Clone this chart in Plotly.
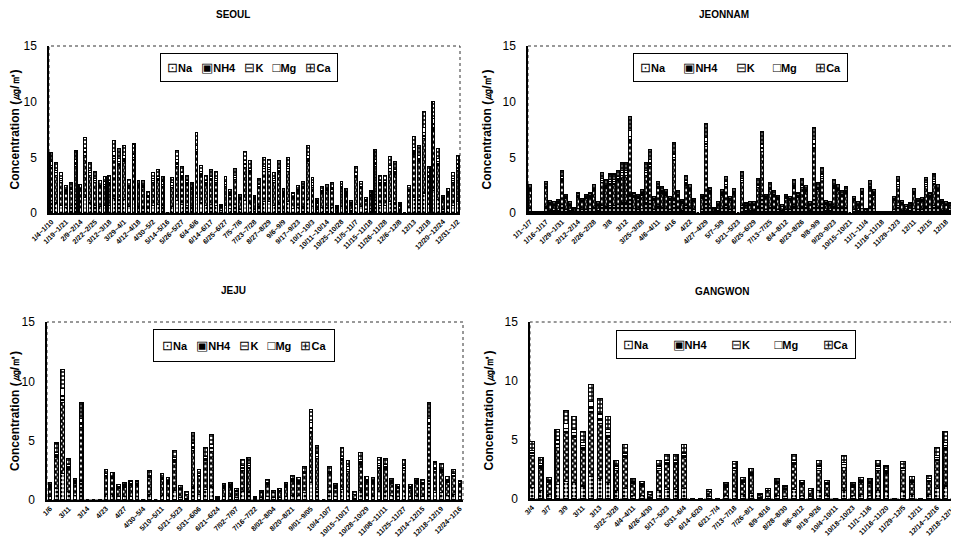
import plotly.graph_objects as go

SERIES = ["Na", "NH4", "K", "Mg", "Ca"]

# ---------------- SEOUL ----------------
SEOUL_NA = [1.1,0.9,0.7,0.5,0.5,1.1,0.5,1.4,0.9,0.7,
            0.6,0.7,0.7,1.3,1.2,1.2,0.6,1.2,0.6,0.6,
            0.4,0.7,0.8,0.7,0,0.6,1.1,0.8,0.7,0.5,
            1.4,0.9,0.7,0.8,0.7,0.2,0.7,0.4,0.8,0.3,
            1.1,0.9,0.3,0.6,1.0,1.0,0.7,0.9,0.4,1.0,
            0.4,0.5,0.6,1.2,0.6,0.3,0.5,0.5,0.5,0.1,
            0.6,0.4,0.2,0.8,0.6,0.3,0.4,1.1,0.7,0.7,
            1.0,0.9,0.2,0,0.5,1.4,1.2,1.8,0.8,2.0,
            1.2,0.3,0.4,0.7,1.0]
SEOUL_NH4 = [2.9,2.5,2.0,1.4,1.6,3.1,1.5,3.8,2.5,2.0,
             1.7,1.7,1.8,3.6,3.1,3.4,1.6,3.5,1.7,1.7,
             1.0,2.0,2.1,1.7,0,1.7,3.1,2.4,1.8,1.6,
             3.9,2.4,1.8,2.1,2.0,0.3,1.7,1.2,2.2,0.9,
             3.0,2.7,0.9,1.6,2.7,2.7,2.0,2.7,1.3,2.7,
             0.9,1.4,1.6,3.4,1.7,0.6,1.3,1.5,1.6,0.3,
             1.6,1.3,0.5,2.4,1.6,0.7,1.1,3.1,1.8,1.8,
             2.7,2.6,0.4,0,1.4,3.9,3.4,4.9,2.4,5.5,
             3.1,0.9,1.3,2.0,2.8]
SEOUL_K = [0.3,0.2,0.2,0.1,0.1,0.3,0.1,0.3,0.2,0.2,
           0.1,0.2,0.2,0.3,0.3,0.3,0.2,0.3,0.1,0.1,
           0.1,0.2,0.2,0.2,0,0.2,0.3,0.2,0.2,0.1,
           0.4,0.2,0.2,0.2,0.2,0.1,0.2,0.1,0.2,0.1,
           0.3,0.2,0.1,0.2,0.3,0.2,0.2,0.2,0.1,0.3,
           0.1,0.1,0.1,0.3,0.2,0.1,0.1,0.1,0.1,0.1,
           0.1,0.1,0.1,0.2,0.1,0.1,0.1,0.3,0.2,0.2,
           0.3,0.2,0.1,0,0.1,0.3,0.3,0.5,0.2,0.5,
           0.3,0.1,0.1,0.2,0.3]
SEOUL_MG = [0.3,0.2,0.2,0.1,0.1,0.3,0.1,0.3,0.2,0.2,
            0.1,0.2,0.2,0.3,0.3,0.3,0.1,0.3,0.1,0.1,
            0.1,0.2,0.2,0.2,0,0.2,0.3,0.2,0.2,0.1,
            0.4,0.2,0.2,0.2,0.2,0.1,0.2,0.1,0.2,0.1,
            0.3,0.2,0.1,0.2,0.2,0.2,0.2,0.2,0.1,0.2,
            0.1,0.1,0.1,0.3,0.2,0.1,0.1,0.1,0.1,0.1,
            0.1,0.1,0.1,0.2,0.1,0.1,0.1,0.3,0.2,0.2,
            0.3,0.2,0.1,0,0.1,0.3,0.3,0.5,0.2,0.5,
            0.3,0.1,0.1,0.2,0.3]
SEOUL_CA = [0.8,0.7,0.5,0.4,0.4,0.8,0.4,1.0,0.7,0.6,
            0.4,0.5,0.5,1.0,0.9,0.9,0.5,0.9,0.4,0.4,
            0.3,0.5,0.6,0.5,0,0.5,0.8,0.6,0.5,0.4,
            1.1,0.6,0.5,0.6,0.6,0.1,0.5,0.3,0.6,0.3,
            0.8,0.7,0.2,0.5,0.8,0.7,0.5,0.7,0.3,0.8,
            0.3,0.4,0.4,0.9,0.5,0.2,0.4,0.4,0.4,0.1,
            0.4,0.3,0.2,0.6,0.4,0.2,0.3,0.9,0.5,0.5,
            0.8,0.7,0.1,0,0.4,1.0,0.9,1.4,0.6,1.5,
            0.9,0.2,0.3,0.5,0.8]
SEOUL_TICKS = ["1/4~1/10","1/19~1/21","2/9~2/14","2/22~2/25","3/12~3/18","3/29~4/1",
               "4/12~4/18","4/30~5/2","5/14~5/16","5/26~5/27","6/4~6/6","6/14~6/17",
               "6/25~6/27","7/5~7/6","7/23~7/28","8/27~8/29","9/6~9/9","9/17~9/23",
               "10/1~10/3","10/11~10/14","10/25~10/28","11/5~11/7","11/15~11/18",
               "11/26~11/28","12/6~12/8","12/13","12/18","12/20~12/24","12/31~1/2"]

# ---------------- JEONNAM ----------------
JEONNAM_NA = [0.5,0,0,0,0.6,0.2,0.2,0.2,0.8,0.3,
              0.2,0.1,0.4,0.3,0.3,0.4,0.5,0.2,0.7,0.6,
              0.7,0.7,0.8,0.9,0.9,1.7,0.4,0.3,0.4,0.9,
              1.1,0.3,0.6,0.5,0.4,0.3,1.3,0.4,0.2,0.7,
              0.5,0.3,0,0.3,1.6,0.5,0.1,0.2,0.4,0.7,
              0.3,0.4,0,0.7,0.2,0.2,0.2,0.6,1.5,0.3,
              0.5,0.4,0.3,0.2,0.3,0.3,0.6,0.4,0.6,0.5,
              0.2,1.5,0.5,0.8,0.2,0.2,0.6,0.5,0.4,0.5,
              0,0.3,0.2,0.4,0.1,0.6,0.4,0,0,0,
              0,0.3,0.7,0.2,0.2,0.2,0.4,0.3,0.3,0.6,
              0.4,0.7,0.5,0.2,0.2,0.2,0.4]
JEONNAM_NH4 = [1.5,0.1,0.1,0.1,1.6,0.6,0.5,0.7,2.1,1.0,
               0.5,0.3,1.0,0.7,1.0,1.0,1.5,0.5,2.0,1.6,
               1.9,1.9,2.1,2.5,2.5,4.8,1.0,1.0,1.2,2.5,
               3.1,0.8,1.6,1.3,1.2,0.8,3.4,1.1,0.7,1.8,
               1.5,0.7,0,1.0,4.4,1.3,0.3,0.5,1.2,1.7,
               0.8,1.3,0,2.0,0.5,0.5,0.5,1.7,4.0,1.0,
               1.6,1.1,0.9,0.4,1.0,0.8,1.6,1.0,1.7,1.4,
               0.5,4.3,1.6,2.3,0.6,0.5,1.6,1.5,1.1,1.3,
               0,0.8,0.5,1.3,0.2,1.6,1.2,0.1,0.1,0.1,
               0.1,0.8,1.7,0.6,0.4,0.5,1.3,0.7,0.7,1.8,
               1.0,1.9,1.5,0.7,0.5,0.5,1.3]
JEONNAM_K = [0.1,0,0,0,0.1,0.1,0.1,0.1,0.2,0.1,
             0.1,0,0.1,0.1,0.1,0.1,0.1,0.1,0.2,0.2,
             0.2,0.2,0.2,0.2,0.2,0.4,0.1,0.1,0.1,0.2,
             0.3,0.1,0.1,0.1,0.1,0.1,0.3,0.1,0.1,0.2,
             0.1,0.1,0,0.1,0.4,0.1,0,0.1,0.1,0.2,
             0.1,0.1,0,0.2,0,0.1,0.1,0.2,0.4,0.1,
             0.1,0.1,0.1,0,0.1,0.1,0.2,0.1,0.2,0.1,
             0.1,0.4,0.1,0.2,0.1,0.1,0.2,0.1,0.1,0.1,
             0,0.1,0.1,0.1,0,0.1,0.1,0,0,0,
             0,0.1,0.2,0.1,0,0,0.1,0.1,0.1,0.2,
             0.1,0.2,0.1,0.1,0.1,0,0.1]
JEONNAM_MG = [0.1,0,0,0,0.1,0,0,0,0.2,0.1,
              0,0,0.1,0,0.1,0.1,0.1,0,0.2,0.1,
              0.2,0.2,0.2,0.2,0.2,0.5,0.1,0.1,0.1,0.2,
              0.3,0.1,0.1,0.1,0.1,0.1,0.3,0.1,0,0.2,
              0.1,0,0,0.1,0.4,0.1,0,0,0.1,0.2,
              0.1,0.1,0,0.2,0,0,0,0.1,0.3,0.1,
              0.1,0.1,0.1,0,0.1,0.1,0.1,0.1,0.1,0.1,
              0,0.4,0.1,0.2,0,0,0.1,0.1,0.1,0.1,
              0,0.1,0,0.1,0,0.1,0.1,0,0,0,
              0,0.1,0.2,0,0,0,0.1,0,0.1,0.1,
              0.1,0.2,0.1,0,0,0,0.1]
JEONNAM_CA = [0.4,0,0,0,0.4,0.2,0.2,0.2,0.5,0.2,
              0.2,0.1,0.2,0.2,0.2,0.2,0.4,0.2,0.5,0.5,
              0.5,0.5,0.5,0.7,0.7,1.3,0.2,0.2,0.3,0.7,
              0.9,0.2,0.4,0.4,0.3,0.2,1.0,0.3,0.2,0.5,
              0.4,0.2,0,0.2,1.2,0.3,0.1,0.2,0.3,0.5,
              0.2,0.3,0,0.6,0.2,0.2,0.2,0.5,1.1,0.2,
              0.4,0.3,0.2,0.2,0.2,0.2,0.5,0.2,0.5,0.4,
              0.2,1.1,0.4,0.6,0.2,0.2,0.5,0.4,0.3,0.4,
              0,0.2,0.2,0.3,0.1,0.5,0.3,0,0,0,
              0,0.2,0.5,0.2,0.2,0.2,0.3,0.2,0.2,0.5,
              0.2,0.5,0.4,0.2,0.2,0.2,0.3]
JEONNAM_TICKS = ["1/1~1/7","1/16~1/17","1/29~1/31","2/12~2/14","2/26~2/28","3/8","3/12",
                 "3/25~3/28","4/6~4/11","4/16","4/22","4/27~4/29","5/7~5/9","5/21~5/23",
                 "6/25~6/29","7/13~7/25","8/4~8/12","8/23~8/26","9/8~9/9","9/20~9/23",
                 "10/15~10/21","11/1~11/4","11/16~11/18","11/29~12/3","12/11","12/15","12/18"]

# ---------------- JEJU ----------------
JEJU_NA = [0.3,1.0,2.2,0.7,0.4,1.6,0,0,0,0.5,
           0.5,0.3,0.3,0.3,0.3,0,0.5,0,0.4,0.4,
           0.8,0.2,0.1,1.1,0.5,0.9,1.1,0.1,0.3,0.3,
           0.2,0.7,0.7,0.1,0.2,0.3,0.2,0.2,0.3,0.4,
           0.4,0.6,1.5,0.9,0,0.6,0.3,0.9,0.7,0.1,
           0.8,0.4,0.4,0.7,0.7,0.4,0.3,0.7,0.3,0.4,
           0.3,1.6,0.6,0.6,0.4,0.5,0.3]
JEJU_NH4 = [0.8,2.6,6.0,1.9,1.0,4.5,0,0,0,1.5,
            1.3,0.7,0.8,0.9,0.9,0,1.4,0,1.3,1.0,
            2.4,0.7,0.4,3.1,1.5,2.4,3.0,0.1,0.7,0.8,
            0.5,1.8,2.0,0.1,0.4,1.0,0.4,0.5,0.8,1.2,
            1.0,1.6,4.2,2.6,0,1.6,0.7,2.4,1.7,0.4,
            2.2,1.1,1.0,2.0,1.9,1.0,0.7,1.8,0.7,1.0,
            1.0,4.5,1.8,1.7,1.1,1.5,0.9]
JEJU_K = [0.1,0.2,0.6,0.2,0.1,0.4,0,0,0,0.1,
          0.1,0.1,0.1,0.1,0.1,0,0.1,0,0.1,0.1,
          0.2,0.1,0,0.3,0.1,0.2,0.3,0,0.1,0.1,
          0.1,0.2,0.2,0,0,0.1,0,0.1,0.1,0.1,
          0.1,0.1,0.4,0.2,0,0.1,0.1,0.2,0.2,0,
          0.2,0.1,0.1,0.2,0.2,0.1,0.1,0.2,0.1,0.1,
          0.1,0.4,0.2,0.2,0.1,0.1,0.1]
JEJU_MG = [0.1,0.2,0.6,0.2,0.1,0.4,0,0,0,0.1,
           0.1,0,0.1,0.1,0.1,0,0.1,0,0.1,0.1,
           0.2,0,0,0.3,0.1,0.2,0.3,0,0.1,0.1,
           0,0.2,0.2,0,0,0.1,0,0,0.1,0.1,
           0.1,0.1,0.4,0.2,0,0.1,0.1,0.2,0.2,0,
           0.2,0.1,0.1,0.2,0.2,0.1,0,0.2,0,0.1,
           0.1,0.4,0.1,0.1,0.1,0.1,0.1]
JEJU_CA = [0.2,0.8,1.6,0.5,0.2,1.3,0,0,0,0.4,
           0.3,0.2,0.2,0.2,0.2,0,0.4,0,0.3,0.3,
           0.6,0.2,0.2,0.9,0.4,0.7,0.8,0.1,0.2,0.2,
           0.2,0.5,0.5,0.1,0.2,0.2,0.2,0.2,0.2,0.3,
           0.3,0.4,1.1,0.7,0,0.4,0.2,0.7,0.5,0.2,
           0.6,0.3,0.3,0.5,0.5,0.2,0.2,0.5,0.2,0.2,
           0.2,1.3,0.5,0.5,0.3,0.4,0.2]
JEJU_TICKS = ["1/6","3/11","3/14","4/23","4/27","4/30~5/4","5/10~5/11","5/21~5/23",
              "5/31~6/06","6/21~6/24","7/02~7/07","7/16~7/22","8/02~8/04","8/20~8/21",
              "9/01~9/05","10/4~10/7","10/15~10/17","10/28~10/29","11/08~11/11",
              "11/25~11/27","12/14~12/15","12/18~12/19","12/24~1/16"]

# ---------------- GANGWON ----------------
GANGWON_NA = [1.0,0.7,0.4,1.2,1.5,1.4,1.1,1.9,1.7,1.4,
              0.7,0.9,0.3,0.3,0.1,0.7,0.8,0.8,0.9,0,
              0,0.2,0,0.3,0.6,0.4,0.5,0.1,0.2,0.3,
              0.2,0.8,0.3,0.2,0.7,0.3,0,0.7,0.3,0.4,
              0.3,0.7,0.6,0,0.6,0.4,0,0.4,0.9,1.1,
              0.5]
GANGWON_NH4 = [2.7,1.9,1.0,3.2,4.1,3.8,3.1,5.4,4.7,3.8,
               1.7,2.6,1.0,0.8,0.3,1.7,2.1,2.1,2.6,0,
               0,0.4,0,0.7,1.8,1.0,1.5,0.3,0.5,1.0,
               0.6,2.1,0.9,0.5,1.7,0.9,0,2.0,0.7,1.0,
               1.0,1.7,1.6,0,1.8,1.0,0,1.1,2.4,3.1,
               1.3]
GANGWON_K = [0.2,0.2,0.1,0.3,0.4,0.4,0.3,0.5,0.4,0.4,
             0.2,0.2,0.1,0.1,0,0.2,0.2,0.2,0.2,0,
             0,0,0,0.1,0.2,0.1,0.1,0,0,0.1,
             0.1,0.2,0.1,0,0.2,0.1,0,0.2,0.1,0.1,
             0.1,0.2,0.1,0,0.2,0.1,0,0.1,0.2,0.3,
             0.1]
GANGWON_MG = [0.2,0.2,0.1,0.3,0.4,0.3,0.3,0.5,0.4,0.3,
              0.2,0.2,0.1,0.1,0,0.2,0.2,0.2,0.2,0,
              0,0,0,0.1,0.1,0.1,0.1,0,0,0.1,
              0,0.2,0.1,0,0.2,0.1,0,0.2,0.1,0.1,
              0.1,0.2,0.1,0,0.1,0.1,0,0.1,0.2,0.3,
              0.1]
GANGWON_CA = [0.8,0.5,0.2,0.9,1.1,1.1,0.9,1.4,1.3,1.1,
              0.5,0.7,0.2,0.2,0.2,0.5,0.5,0.5,0.7,0,
              0,0.2,0,0.2,0.5,0.2,0.4,0.1,0.2,0.2,
              0.2,0.5,0.2,0.2,0.5,0.2,0,0.6,0.2,0.2,
              0.2,0.5,0.4,0,0.5,0.3,0,0.3,0.7,0.9,
              0.4]
GANGWON_TICKS = ["3/4","3/7","3/9","3/11","3/13","3/22~3/28","4/4~4/11","4/26~4/30",
                 "5/17~5/23","5/31~6/4","6/14~6/20","6/21~7/4","7/13~7/18","7/26~8/1",
                 "8/9~8/16","8/28~8/30","9/6~9/12","9/19~9/26","10/4~10/11","10/18~10/23",
                 "11/1~11/6","11/16~11/20","11/29~12/5","12/11","12/14~12/16","12/18~12/19"]

REGIONS = [
    ("SEOUL", [SEOUL_NA, SEOUL_NH4, SEOUL_K, SEOUL_MG, SEOUL_CA], SEOUL_TICKS, 3),
    ("JEONNAM", [JEONNAM_NA, JEONNAM_NH4, JEONNAM_K, JEONNAM_MG, JEONNAM_CA], JEONNAM_TICKS, 4),
    ("JEJU", [JEJU_NA, JEJU_NH4, JEJU_K, JEJU_MG, JEJU_CA], JEJU_TICKS, 3),
    ("GANGWON", [GANGWON_NA, GANGWON_NH4, GANGWON_K, GANGWON_MG, GANGWON_CA], GANGWON_TICKS, 2),
]

# ---------------- styling / layout ----------------
W, H, OFF = 959, 540, 8          # page body margin of the browser shifts the figure by OFF px


def fx(px):
    return (px - OFF) / W


def fy(py):
    return 1 - (py - OFF) / H


PATTERN = {"Na": (".", 0.5), "NH4": ("x", 0.7), "K": ("-", 0.55), "Mg": ("", 0.3), "Ca": ("+", 0.55)}
LEGEND_GLYPH = {"Na": "⊡", "NH4": "▣", "K": "⊟", "Mg": "□", "Ca": "⊞"}
# screen-pixel boxes of each plot area: (left, right, top, bottom)
PLOT_BOX = [(49, 460, 46, 213), (528, 956, 46, 213), (47, 463, 322, 500), (530, 967, 322, 499)]
TITLE_PX = [(233, 15), (724, 15), (233, 290), (722, 291)]
LEGEND_PX = [(249, 53), (740, 53), (244, 329), (736, 330)]
LEGEND_GAP = [3, 6, 3, 8]
LEGEND_PAD = [6, 6, 8, 6]
FONT = "Arial, Liberation Sans, sans-serif"

fig = go.Figure()
layout = dict(width=W, height=H, margin=dict(l=0, r=0, t=0, b=0),
              paper_bgcolor="white", plot_bgcolor="white", barmode="stack",
              bargap=0.42, font=dict(family=FONT, color="black"),
              shapes=[], annotations=[], template="none", showlegend=False)

for i, (name, vals, ticks, step) in enumerate(REGIONS):
    sfx = "" if i == 0 else str(i + 1)
    n = len(vals[0])
    xs = list(range(n))
    for s, v in zip(SERIES, vals):
        shape, sol = PATTERN[s]
        fig.add_bar(x=xs, y=v, name=s, xaxis="x" + sfx, yaxis="y" + sfx,
                    marker=dict(color="white", line=dict(color="black", width=1.1),
                                pattern=dict(shape=shape, fgcolor="black", bgcolor="white",
                                             size=4, solidity=sol)),
                    hoverinfo="skip")
    l, r, t, b = PLOT_BOX[i]
    rng = [-0.25, 51.55] if name == "GANGWON" else [-0.5, n - 0.5]
    layout["xaxis" + sfx] = dict(domain=[fx(l), min(1.0, fx(r))], anchor="y" + sfx, range=rng,
                                 tickmode="array", tickvals=xs[::step][:len(ticks)],
                                 ticktext=ticks, tickangle=-45,
                                 tickfont=dict(size=7, family=FONT, color="black", weight="bold"),
                                 showline=True, linecolor="black", linewidth=2,
                                 showgrid=False, zeroline=False, ticks="")
    layout["yaxis" + sfx] = dict(domain=[fy(b), fy(t)], anchor="x" + sfx, range=[0, 15],
                                 tickvals=[0, 5, 10, 15], tickfont=dict(size=12, color="black"),
                                 ticklabelstandoff=8,
                                 showline=True, linecolor="black", linewidth=1.5,
                                 showgrid=False, zeroline=False, ticks="",
                                 title=dict(text="<b>Concentration (㎍/㎥)</b>",
                                            font=dict(size=12, color="black"), standoff=8))
    layout["shapes"].append(dict(type="rect", xref=f"x{sfx} domain", yref=f"y{sfx} domain",
                                 x0=0, x1=1.05 if name == "GANGWON" else 1, y0=0, y1=1,
                                 line=dict(color="#333", width=1, dash="dot"), layer="below"))
    tx, ty = TITLE_PX[i]
    layout["annotations"].append(dict(text=f"<b>{name}</b>", x=fx(tx), y=fy(ty), xref="paper",
                                      yref="paper", xanchor="center", yanchor="middle",
                                      showarrow=False,
                                      font=dict(size=10, family=FONT, color="black")))
    # boxed legend row
    gap = "\u00a0" * LEGEND_GAP[i]
    legend_text = gap.join(f"<span style='font-size:13px'>{LEGEND_GLYPH[s]}</span><b>{s}</b>"
                           for s in SERIES)
    lx, ly = LEGEND_PX[i]
    layout["annotations"].append(dict(text=legend_text, x=fx(lx), y=fy(ly), xref="paper",
                                      yref="paper", xanchor="center", yanchor="top",
                                      showarrow=False, bgcolor="white", bordercolor="black",
                                      borderwidth=1, borderpad=LEGEND_PAD[i],
                                      font=dict(size=11, family=FONT, color="black")))

fig.update_layout(**layout)
fig.write_html("out.html")
